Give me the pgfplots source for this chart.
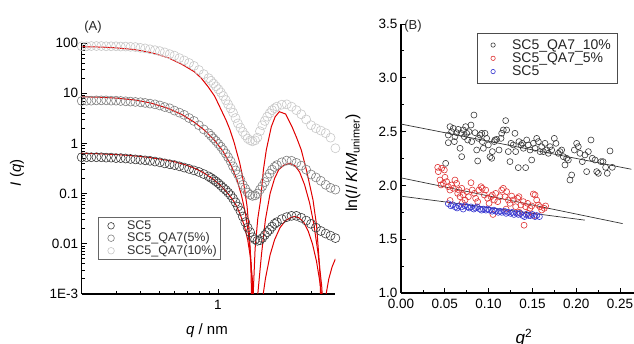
\documentclass[border=0pt]{standalone}
\usepackage{fontspec}
\setmainfont{Liberation Sans}
\usepackage{pgfplots}
\pgfplotsset{compat=1.18}
\definecolor{dA}{HTML}{3C3C3C}
\definecolor{dB}{HTML}{808080}
\definecolor{dC}{HTML}{C8C8C8}
\definecolor{fitred}{HTML}{E00000}
\definecolor{pBk}{HTML}{3A3A3A}
\definecolor{pRd}{HTML}{E03535}
\definecolor{pBl}{HTML}{3535D0}
\pgfplotsset{
  every axis/.append style={/pgf/number format/assume math mode=true},
  every tick label/.append style={font=\fontsize{13.5}{14}\selectfont, text=black},
}
\begin{document}
\begin{tikzpicture}
\useasboundingbox (0pt,0pt) rectangle (634pt,344pt);
% ---------------- Panel A ----------------
\begin{axis}[at={(81.7pt,50pt)}, anchor=south west, scale only axis,
  width=253.7pt, height=251pt,
  xmode=log, ymode=log, xmin=0.2, xmax=4, ymin=0.001, ymax=100,
  axis x line=bottom, axis y line=left, axis line style={-, line width=1.3pt},
  tick align=inside, major tick length=5pt, minor tick length=3pt,
  tick style={black, line width=0.9pt},
  xtick={1}, xticklabels={1}, xticklabel style={yshift=-3pt},
  minor xtick={0.3,0.4,0.5,0.6,0.7,0.8,0.9,2,3},
  ytick={0.001,0.01,0.1,1,10,100}, yticklabels={1E-3,0.01,0.1,1,10,100},
  minor ytick={0.002,0.003,0.004,0.005,0.006,0.007,0.008,0.009,
    0.02,0.03,0.04,0.05,0.06,0.07,0.08,0.09,
    0.2,0.3,0.4,0.5,0.6,0.7,0.8,0.9,
    2,3,4,5,6,7,8,9,20,30,40,50,60,70,80,90},
  legend style={at={(0.063,0.3056)}, anchor=north west, draw=black!60, line width=0.8pt,
    fill=white, font=\fontsize{12.5}{13}\selectfont, text=black!80,
    inner xsep=3pt, inner ysep=2pt, row sep=0pt, nodes={inner sep=1pt}},
  legend cell align=left,
  legend image code/.code={\path[draw=none] (0pt,0pt) -- (25pt,0pt);
     \draw[#1, mark size=3.3pt] plot coordinates {(10pt,0pt)};},
]
\addplot[only marks, mark=o, mark size=4.5pt, color=dA, line width=0.6pt] coordinates {
(0.200,0.53)(0.212,0.53)(0.224,0.53)(0.238,0.53)(0.252,0.53)(0.267,0.52)(0.283,0.52)(0.300,0.51)
(0.317,0.51)(0.336,0.50)(0.356,0.49)(0.377,0.48)(0.400,0.47)(0.423,0.46)(0.448,0.45)(0.475,0.435)
(0.503,0.42)(0.533,0.40)(0.565,0.385)(0.598,0.37)(0.634,0.35)(0.671,0.33)(0.711,0.31)(0.753,0.29)
(0.798,0.27)(0.845,0.245)(0.895,0.22)(0.921,0.205)(0.948,0.19)(0.976,0.175)(1.005,0.16)(1.034,0.145)
(1.064,0.13)(1.096,0.118)(1.127,0.105)(1.161,0.093)(1.194,0.08)(1.230,0.067)(1.265,0.055)(1.303,0.045)
(1.340,0.035)(1.380,0.027)(1.419,0.021)(1.462,0.017)(1.503,0.0135)(1.549,0.0122)(1.592,0.0115)
(1.641,0.0118)(1.687,0.013)(1.738,0.015)(1.787,0.017)(1.841,0.019)(1.893,0.022)(1.950,0.025)
(2.005,0.027)(2.124,0.031)(2.250,0.034)(2.383,0.036)(2.524,0.036)(2.674,0.033)(2.832,0.029)
(3.000,0.025)(3.178,0.021)(3.366,0.018)(3.565,0.016)(3.777,0.0145)(4.000,0.013)};
\addlegendentry{SC5}
\addplot[only marks, mark=o, mark size=4.5pt, color=dB, line width=0.6pt] coordinates {
(0.200,7.0)(0.212,7.1)(0.224,7.1)(0.238,7.2)(0.252,7.2)(0.267,7.2)(0.283,7.1)(0.300,7.1)
(0.317,7.0)(0.336,6.9)(0.356,6.8)(0.377,6.7)(0.400,6.6)(0.423,6.4)(0.448,6.2)(0.475,6.0)
(0.503,5.7)(0.533,5.3)(0.565,5.0)(0.598,4.5)(0.634,4.1)(0.671,3.7)(0.711,3.2)(0.753,2.8)
(0.798,2.3)(0.845,1.9)(0.895,1.6)(0.921,1.42)(0.948,1.26)(0.976,1.12)(1.005,0.98)(1.034,0.86)
(1.064,0.74)(1.096,0.63)(1.127,0.53)(1.161,0.44)(1.194,0.35)(1.230,0.29)(1.265,0.24)(1.303,0.19)
(1.340,0.15)(1.380,0.125)(1.419,0.105)(1.462,0.095)(1.503,0.09)(1.549,0.092)(1.592,0.10)
(1.641,0.12)(1.687,0.14)(1.738,0.17)(1.787,0.21)(1.841,0.25)(1.893,0.30)(1.950,0.34)
(2.005,0.37)(2.124,0.42)(2.250,0.455)(2.383,0.45)(2.524,0.41)(2.674,0.36)(2.832,0.30)
(3.000,0.24)(3.178,0.21)(3.366,0.18)(3.565,0.15)(3.777,0.13)(4.000,0.12)};
\addlegendentry{SC5\_QA7(5\%)}
\addplot[only marks, mark=o, mark size=4.5pt, color=dC, line width=0.6pt] coordinates {
(0.200,86)(0.212,86)(0.224,87)(0.238,87)(0.252,87)(0.267,86)(0.283,86)(0.300,86)
(0.317,85)(0.336,85)(0.356,84)(0.377,83)(0.400,80)(0.423,78)(0.448,75)(0.475,72)
(0.503,69)(0.533,65)(0.565,60)(0.598,56)(0.634,50)(0.671,45)(0.711,40)(0.753,35)
(0.798,29)(0.845,24)(0.895,20)(0.921,17.7)(0.948,15.6)(0.976,13.7)(1.005,12)(1.034,10.4)
(1.064,8.8)(1.096,7.3)(1.127,6.0)(1.161,5.0)(1.194,4.1)(1.230,3.2)(1.265,2.5)(1.303,2.05)
(1.340,1.7)(1.380,1.45)(1.419,1.25)(1.462,1.15)(1.503,1.1)(1.549,1.15)(1.592,1.3)
(1.641,1.75)(1.687,2.3)(1.738,2.8)(1.787,3.4)(1.841,4.0)(1.893,4.6)(1.950,5.0)
(2.005,5.4)(2.124,5.9)(2.250,6.0)(2.383,5.4)(2.524,4.6)(2.674,3.8)(2.832,3.0)
(3.000,2.3)(3.178,2.0)(3.366,1.8)(3.565,1.6)(3.777,1.3)(4.000,0.8)};
\addlegendentry{SC5\_QA7(10\%)}
% fits
\addplot[fitred, line width=1pt, forget plot] coordinates {
(0.20,84.4)(0.25,83)(0.30,80)(0.372,74)(0.45,65)(0.554,51)(0.65,38)(0.756,26.8)(0.82,20)
(0.889,13.5)(0.96,8.8)(1.04,4.6)(1.10,2.9)(1.15,1.9)(1.212,1.02)(1.25,0.65)(1.29,0.42)
(1.33,0.24)(1.364,0.135)(1.41,0.055)(1.447,0.0164)(1.47,0.0055)(1.49,0.0006)(1.50,1e-7)
(1.52,0.0013)(1.55,0.008)(1.60,0.032)(1.654,0.075)(1.71,0.30)(1.769,0.74)(1.877,2.15)
(1.965,3.4)(2.063,4.28)(2.223,3.85)(2.396,2.15)(2.53,1.3)(2.674,0.74)(2.85,0.28)(3.07,0.075)
(3.2,0.024)(3.32,0.0035)(3.37,0.0006)(3.40,1e-7)(3.43,0.00015)(3.55,0.0008)(3.7,0.002)
(3.85,0.0035)(4.0,0.005)};
\addplot[fitred, line width=1pt, forget plot] coordinates {
(0.20,8.5)(0.25,8.3)(0.30,8.0)(0.374,7.33)(0.45,6.4)(0.554,5.0)(0.65,3.8)(0.75,2.7)(0.85,1.85)
(0.96,1.15)(1.06,0.70)(1.17,0.36)(1.25,0.19)(1.317,0.095)(1.38,0.042)(1.425,0.0185)
(1.46,0.0075)(1.481,0.0037)(1.50,0.0012)(1.52,0.00012)(1.53,1e-7)(1.55,0.0002)(1.60,0.001)
(1.67,0.006)(1.75,0.03)(1.85,0.10)(1.95,0.20)(2.05,0.30)(2.18,0.37)(2.33,0.40)(2.48,0.36)
(2.62,0.27)(2.78,0.15)(2.95,0.065)(3.10,0.025)(3.25,0.007)(3.40,0.0015)(3.52,0.0002)
(3.60,0.00001)(3.62,1e-7)(3.66,0.00002)(3.8,0.0002)(4.0,0.0006)};
\addplot[fitred, line width=1pt, forget plot] coordinates {
(0.20,0.635)(0.25,0.62)(0.30,0.60)(0.35,0.575)(0.40,0.55)(0.45,0.52)(0.50,0.49)(0.55,0.46)
(0.60,0.43)(0.65,0.395)(0.70,0.36)(0.75,0.325)(0.80,0.29)(0.85,0.255)(0.90,0.22)(0.95,0.19)
(1.00,0.16)(1.05,0.135)(1.10,0.11)(1.15,0.09)(1.20,0.072)(1.25,0.055)(1.30,0.038)(1.36,0.024)
(1.42,0.012)(1.46,0.006)(1.50,0.002)(1.53,0.0003)(1.55,1e-7)(1.58,0.00005)(1.65,0.0004)
(1.75,0.002)(1.85,0.006)(1.95,0.012)(2.08,0.021)(2.22,0.029)(2.35,0.033)(2.47,0.035)
(2.60,0.033)(2.75,0.027)(2.90,0.018)(3.05,0.010)(3.20,0.0045)(3.35,0.0015)(3.50,0.0004)
(3.65,0.00006)(3.80,0.000003)(3.85,1e-7)(3.92,0.000005)(4.0,0.00002)};
\end{axis}
% ---------------- Panel B ----------------
\begin{axis}[at={(401pt,51pt)}, anchor=south west, scale only axis,
  width=236.5pt, height=269pt,
  xmin=0, xmax=0.27, ymin=1, ymax=3.5,
  axis x line=bottom, axis y line=left, axis line style={-, line width=1.1pt},
  tick align=inside, major tick length=5pt, minor tick length=3pt,
  tick style={black, line width=0.8pt},
  xtick={0,0.05,0.1,0.15,0.2,0.25}, ytick={1,1.5,2,2.5,3,3.5},
  minor x tick num=1, minor y tick num=1, scaled ticks=false,
  xticklabel style={yshift=-2.5pt, /pgf/number format/.cd, fixed, fixed zerofill, precision=2},
  yticklabel style={/pgf/number format/.cd, fixed, fixed zerofill, precision=1},
  legend style={at={(0.320,0.9665)}, anchor=north west, draw=black!70, line width=0.8pt,
    fill=white, font=\fontsize{14}{15}\selectfont, text=black!85,
    inner xsep=5pt, inner ysep=5pt, row sep=0pt, nodes={inner sep=1pt}},
  legend cell align=left,
  legend image code/.code={\path[draw=none] (0pt,0pt) -- (29pt,0pt);
     \draw[#1, mark size=2.2pt] plot coordinates {(11pt,0pt)};},
]
\addplot[only marks, mark=o, mark size=3pt, color=pBk, line width=0.6pt] coordinates {
(0.0510,2.205)(0.0540,2.468)(0.0559,2.546)(0.0578,2.499)(0.0540,2.397)(0.0597,2.530)
(0.0616,2.453)(0.0609,2.407)(0.0635,2.490)(0.0654,2.521)(0.0674,2.345)(0.0693,2.267)
(0.0685,2.484)(0.0712,2.515)(0.0723,2.453)(0.0738,2.546)(0.0750,2.484)(0.0761,2.422)
(0.0776,2.499)(0.0799,2.561)(0.0807,2.407)(0.0833,2.654)(0.0845,2.490)(0.0864,2.329)
(0.0875,2.227)(0.0883,2.437)(0.0902,2.468)(0.0921,2.484)(0.0928,2.407)(0.0940,2.345)
(0.0959,2.484)(0.0978,2.437)(0.0997,2.376)(0.1016,2.267)(0.1035,2.252)(0.1043,2.314)
(0.1065,2.407)(0.1073,2.422)(0.1092,2.428)(0.1119,2.329)(0.1142,2.437)(0.1149,2.484)
(0.1168,2.515)(0.1195,2.602)(0.1206,2.515)(0.1225,2.314)(0.1244,2.221)(0.1256,2.391)
(0.1282,2.376)(0.1301,2.484)(0.1309,2.314)(0.1339,2.165)(0.1347,2.407)(0.1370,2.376)
(0.1385,2.391)(0.1397,2.345)(0.1423,2.165)(0.1435,2.422)(0.1454,2.376)(0.1473,2.329)
(0.1492,2.236)(0.1511,2.391)(0.1530,2.345)(0.1549,2.437)(0.1568,2.407)(0.1587,2.314)
(0.1606,2.360)(0.1625,2.314)(0.1644,2.391)(0.1663,2.329)(0.1682,2.298)(0.1701,2.360)
(0.1720,2.329)(0.1750,2.437)(0.1769,2.391)(0.1796,2.298)(0.1815,2.314)(0.1834,2.329)
(0.1853,2.267)(0.1872,2.190)(0.1891,2.252)(0.1910,2.236)(0.1929,2.050)(0.1948,2.097)
(0.1979,2.329)(0.2005,2.391)(0.2024,2.360)(0.2043,2.298)(0.2070,2.221)(0.2100,2.283)
(0.2119,2.128)(0.2139,2.314)(0.2169,2.422)(0.2184,2.252)(0.2215,2.236)(0.2234,2.128)
(0.2253,2.112)(0.2283,2.221)(0.2306,2.221)(0.2336,2.168)(0.2355,2.112)(0.2386,2.320)
(0.2412,2.168)};
\addlegendentry{SC5\_QA7\_10\%}
\addplot[only marks, mark=o, mark size=3pt, color=pRd, line width=0.6pt] coordinates {
(0.0419,2.168)(0.0426,2.128)(0.0464,2.159)(0.0495,2.143)(0.0502,2.075)(0.0445,2.050)
(0.0457,2.004)(0.0483,2.019)(0.0521,2.035)(0.0540,1.988)(0.0559,1.957)(0.0578,2.004)
(0.0597,1.973)(0.0616,2.050)(0.0635,2.019)(0.0647,1.926)(0.0662,1.957)(0.0674,1.895)
(0.0693,1.973)(0.0712,1.911)(0.0731,1.864)(0.0750,1.942)(0.0769,1.895)(0.0799,2.025)
(0.0814,1.957)(0.0837,1.926)(0.0852,1.880)(0.0875,1.849)(0.0890,1.957)(0.0913,1.988)
(0.0928,1.973)(0.0951,1.911)(0.0967,1.957)(0.0989,1.880)(0.1005,1.833)(0.1027,1.895)
(0.1043,1.911)(0.1065,1.864)(0.1081,1.926)(0.1104,1.849)(0.1130,1.895)(0.1149,1.957)
(0.1168,1.973)(0.1187,1.895)(0.1206,1.942)(0.1225,1.864)(0.1244,1.833)(0.1263,1.901)
(0.1282,1.864)(0.1309,1.802)(0.1332,1.880)(0.1347,1.895)(0.1370,1.818)(0.1397,1.849)
(0.1423,1.802)(0.1446,1.833)(0.1473,1.787)(0.1492,1.809)(0.1511,1.920)(0.1530,1.911)
(0.1549,1.864)(0.1568,1.818)(0.1587,1.802)(0.1606,1.771)(0.1636,1.787)(0.1651,1.809)
(0.1405,1.630)(0.0560,1.860)(0.0700,1.840)(0.1050,1.730)(0.1200,1.780)(0.1350,1.750)
(0.1450,1.740)(0.1520,1.720)};
\addlegendentry{SC5\_QA7\_5\%}
\addplot[only marks, mark=o, mark size=3pt, color=pBl, line width=0.6pt] coordinates {
(0.054,1.83)(0.057,1.81)(0.059,1.82)(0.062,1.80)(0.064,1.79)(0.066,1.81)(0.069,1.80)
(0.071,1.78)(0.073,1.81)(0.076,1.80)(0.078,1.79)(0.080,1.80)(0.083,1.78)(0.085,1.79)
(0.087,1.80)(0.090,1.78)(0.092,1.77)(0.094,1.78)(0.097,1.77)(0.099,1.78)(0.101,1.77)
(0.104,1.76)(0.106,1.77)(0.108,1.76)(0.111,1.75)(0.113,1.76)(0.115,1.75)(0.118,1.76)
(0.120,1.74)(0.122,1.75)(0.125,1.74)(0.127,1.75)(0.129,1.73)(0.132,1.74)(0.134,1.73)
(0.136,1.74)(0.139,1.72)(0.141,1.71)(0.143,1.73)(0.146,1.72)(0.148,1.72)(0.150,1.73)
(0.153,1.71)(0.155,1.72)(0.158,1.71)};
\addlegendentry{SC5}
\addplot[black!80, line width=0.7pt, forget plot] coordinates {(0,2.57)(0.263,2.15)};
\addplot[black!80, line width=0.7pt, forget plot] coordinates {(0,2.07)(0.253,1.645)};
\addplot[black!80, line width=0.7pt, forget plot] coordinates {(0,1.90)(0.21,1.677)};
\end{axis}
% ---------------- labels ----------------
\node[font=\fontsize{13}{14}\selectfont, text=black!85] at (93pt,317pt) {(A)};
\node[font=\fontsize{13}{14}\selectfont, text=black!85] at (413pt,318pt) {(B)};
\node[rotate=90, font=\fontsize{15}{16}\selectfont] at (17pt,171pt) {\textit{I} (\textit{q})};
\node[font=\fontsize{15}{16}\selectfont] at (207pt,13pt) {\textit{q} / nm};
\node[rotate=90, font=\fontsize{16}{17}\selectfont] at (353pt,181pt)
  {ln(\textit{I}/\,\textit{K}/\textit{M}\textsubscript{\fontsize{11}{12}\selectfont unimer})};
\node[font=\fontsize{17}{18}\selectfont] at (524pt,6pt) {\textit{q}\textsuperscript{2}};
\end{tikzpicture}
\end{document}
